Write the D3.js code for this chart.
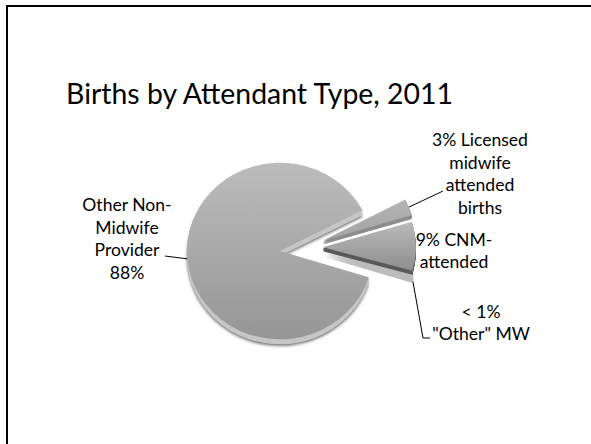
<!DOCTYPE html>
<html><head><meta charset="utf-8">
<script src="https://cdn.jsdelivr.net/npm/d3@7/dist/d3.min.js"></script>
<style>html,body{margin:0;padding:0;background:#fff;overflow:hidden}svg{display:block}</style>
</head><body>
<svg id="c" width="591" height="444"></svg>
<script>
// ---- data ----
const title = "Births by Attendant Type, 2011";
const categories = ["Licensed midwife", "CNM", "Other MW", "Other Non-Midwife Provider"];
const values = [3, 9, 0.5, 88];
const labelLines = [
  ["3% Licensed", "midwife", "attended", "births"],
  ["9% CNM-", "attended"],
  ["< 1%", "\"Other\" MW"],
  ["Other Non-", "Midwife", "Provider", "88%"]
];

// ---- layout / style ----
const W = 591, H = 444;
const cx = 280, cy = 251, R = 93, SY = 0.95;
const depth = [4, 4, 9, 5];
const font = "Lato, 'Open Sans', sans-serif";
const faceTop = ["#b4b4b4", "#bababa", "#bdbdbd", "#bcbcbc"];
const faceBot = ["#a4a4a4", "#8e8e8e", "#bdbdbd", "#969696"];
const sideCol = ["#8e8e8e", "#5a5a5a", "#bcbcbc", "#c6c6c6"];
const radialOff = [3, 1, 2, 0];
const edgeSep = [6, 0, 0, 0];
const labelPos = [
  {x: 480, y: 146, lh: 22.7},
  {x: 454, y: 246, lh: 22.3},
  {x: 481, y: 318, lh: 21.5},
  {x: 127, y: 211, lh: 22.7}
];

const svg = d3.select("#c");
const defs = svg.append("defs");
defs.append("filter").attr("id", "blur").attr("x", "-20%").attr("y", "-20%").attr("width", "140%").attr("height", "140%")
  .append("feGaussianBlur").attr("stdDeviation", 1.6);

// frame
svg.append("path").attr("d", `M7,${H + 10} L7,6 L${W + 10},6`)
  .attr("fill", "none").attr("stroke", "#000").attr("stroke-width", 2);

// title
const t = svg.append("text").attr("x", 259.5).attr("y", 104).attr("text-anchor", "middle")
  .attr("font-family", font).attr("font-size", 30).attr("fill", "#000").text(title);
{ const w = t.node().getComputedTextLength(); t.attr("font-size", 30 * 387 / w); }

// pie
const startA = 62.5 * Math.PI / 180;
const pie = d3.pie().sort(null).value(d => d)
  .startAngle(startA).endAngle(startA + 2 * Math.PI);
const arcs = pie(values);
const arc = d3.arc().innerRadius(0).outerRadius(R);
const unit = a => [Math.sin(a), -Math.cos(a)];

const smallStart = arcs[0].startAngle, smallEnd = arcs[2].endAngle;
const gapMid = (smallStart + smallEnd) / 2;
const offsets = arcs.map((a, i) => {
  if (i === 3) return [0, 0];
  const g = unit(gapMid), o = unit((a.startAngle + a.endAngle) / 2), n = unit(a.endAngle - Math.PI / 2);
  return [42 * g[0] + radialOff[i] * o[0] + edgeSep[i] * n[0],
          42 * g[1] + radialOff[i] * o[1] + edgeSep[i] * n[1]];
});

arcs.forEach((a, i) => {
  const gr = defs.append("linearGradient").attr("id", "g" + i)
    .attr("x1", 0).attr("y1", 0).attr("x2", 0).attr("y2", 1);
  gr.append("stop").attr("offset", "0%").attr("stop-color", faceTop[i]);
  gr.append("stop").attr("offset", "100%").attr("stop-color", faceBot[i]);
});

const pieG = svg.append("g");
const order = [3, 0, 2, 1];
// soft shadow under main slice
pieG.append("g").attr("transform", `translate(${cx},${cy + depth[3] + 1.5}) scale(1,${SY})`)
  .append("path").attr("d", arc(arcs[3])).attr("fill", "#6a6a6a").attr("filter", "url(#blur)");
order.forEach(i => {
  const a = arcs[i], [ox, oy] = offsets[i];
  const g = pieG.append("g");
  for (let k = depth[i]; k >= 1; k -= 0.5) {
    g.append("path")
      .attr("transform", `translate(${cx + ox},${cy + oy + k}) scale(1,${SY})`)
      .attr("d", arc(a)).attr("fill", sideCol[i]);
  }
  g.append("path")
    .attr("transform", `translate(${cx + ox},${cy + oy}) scale(1,${SY})`)
    .attr("d", arc(a)).attr("fill", `url(#g${i})`);
});

// labels
const labelG = svg.append("g").attr("font-family", font).attr("fill", "#000");
let fs = 18;
{
  const tmp = labelG.append("text").attr("font-size", 18).text(labelLines[0][0]);
  fs = 18 * 96 / tmp.node().getComputedTextLength();
  tmp.remove();
}
labelLines.forEach((lines, i) => {
  const p = labelPos[i];
  const tx = labelG.append("text").attr("font-size", fs).attr("text-anchor", "middle");
  lines.forEach((l, j) => tx.append("tspan").attr("x", p.x).attr("y", p.y + j * p.lh).text(l));
});

// leader lines
function tip(i, extra) {
  const a = arcs[i], m = (a.startAngle + a.endAngle) / 2, u = unit(m), [ox, oy] = offsets[i];
  return [cx + ox + R * u[0], cy + oy + R * u[1] * SY + (extra || 0)];
}
const line = d3.line();
const leaders = [
  [[443, 191], tip(0, 0)],
  [tip(2, depth[2]), [423, 338], [430, 338]],
  [[165, 256], tip(3, 0)]
];
svg.append("g").selectAll("path").data(leaders).join("path")
  .attr("d", d => line(d)).attr("fill", "none").attr("stroke", "#000").attr("stroke-width", 1);
</script>
</body></html>
